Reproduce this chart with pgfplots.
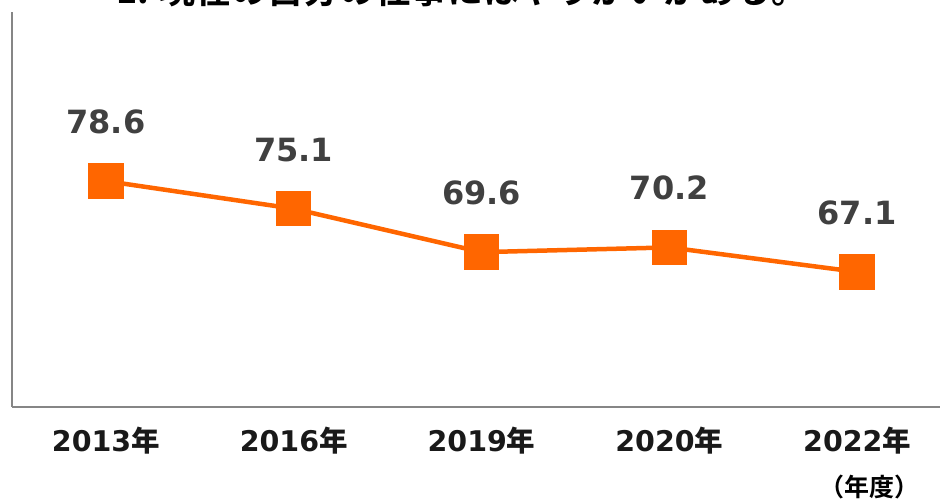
\documentclass[border=0pt]{standalone}
\usepackage{pgfplots}
\pgfplotsset{compat=1.18}
\usepackage{fontspec}
\setmainfont{DejaVu Sans}
\newfontfamily\cjk{Noto Sans CJK JP Bold}
\definecolor{lineor}{HTML}{FF6600}
\definecolor{lblgray}{HTML}{404040}
\definecolor{axgray}{HTML}{868686}
\begin{document}
\begin{tikzpicture}[x=1pt,y=1pt]
\node[anchor=base, inner sep=0] at (462,499) {\cjk\fontsize{36}{36}\selectfont 1. 現在の自分の仕事にはやりがいがある。};
\begin{axis}[
  at={(12pt,96pt)}, anchor=south west,
  scale only axis, width=939pt, height=395pt,
  xmin=-0.5, xmax=4.5, ymin=50, ymax=100,
  axis x line=bottom, axis y line=left,
  axis line style={axgray, line width=1.5pt, -},
  xtick={0,1,2,3,4},
  xticklabels={2013{\cjk 年},2016{\cjk 年},2019{\cjk 年},2020{\cjk 年},2022{\cjk 年}},
  xticklabel style={anchor=base, yshift=-44.5pt, inner sep=0, font=\bfseries\fontsize{28.5}{28.5}\selectfont, text=black!90},
  major tick length=0pt,
  ytick=\empty,
  clip=false,
  nodes near coords,
  point meta=explicit symbolic,
  every node near coord/.append style={anchor=base, yshift=47.5pt, inner sep=0, font=\bfseries\fontsize{32}{32}\selectfont, text=lblgray},
]
\addplot[color=lineor, line width=4.5pt, mark=square*, mark size=15.5pt, mark options={solid, fill=lineor, draw=none}]
  coordinates {(0,78.6) [78.6] (1,75.1) [75.1] (2,69.6) [69.6] (3,70.2) [70.2] (4,67.1) [67.1]};
\end{axis}
\node[anchor=base, inner sep=0] at (869,6) {\cjk\fontsize{25}{25}\selectfont （年度）};
\pgfresetboundingbox
\useasboundingbox (0,0) rectangle (940,503);
\end{tikzpicture}
\end{document}
